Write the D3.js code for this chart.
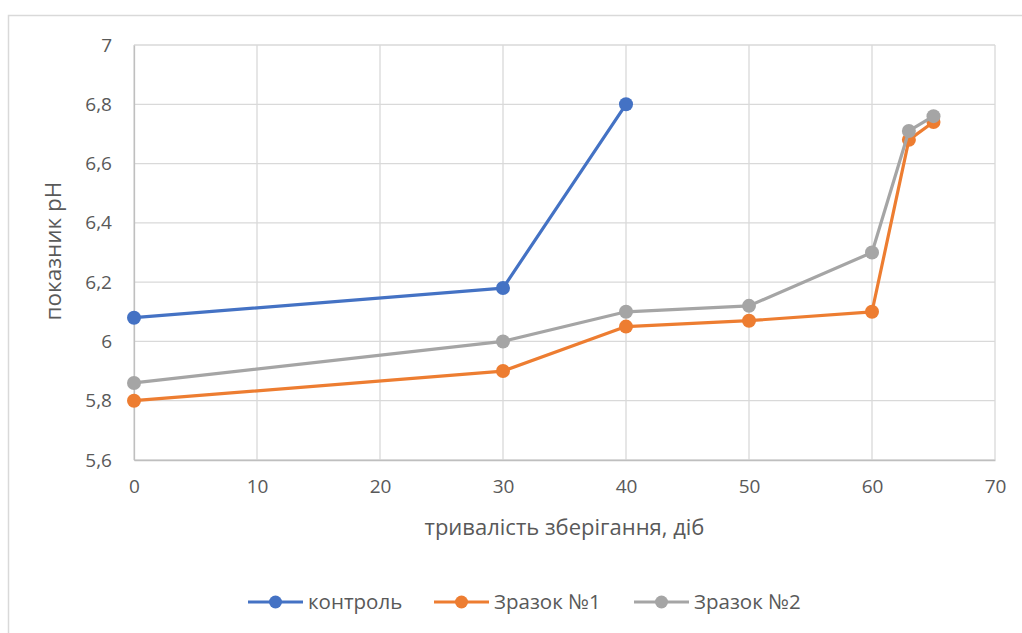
<!DOCTYPE html>
<html><head><meta charset="utf-8">
<script src="https://cdn.jsdelivr.net/npm/d3@7"></script>
<style>body{margin:0;background:#fff;} text{font-family:"Open Sans","Noto Sans",sans-serif;fill:#595959;}</style>
</head><body>
<svg id="c" width="1022" height="633"></svg>
<script>
const seriesNames = ["контроль", "Зразок №1", "Зразок №2"];
const colors = ["#4472C4", "#ED7D31", "#A5A5A5"];
const days0 = [0, 30, 40];
const control = [6.08, 6.18, 6.8];
const days12 = [0, 30, 40, 50, 60, 63, 65];
const sample1 = [5.8, 5.9, 6.05, 6.07, 6.1, 6.68, 6.74];
const sample2 = [5.86, 6.0, 6.1, 6.12, 6.3, 6.71, 6.76];
const xTicks = [0, 10, 20, 30, 40, 50, 60, 70];
const yTicks = [5.6, 5.8, 6.0, 6.2, 6.4, 6.6, 6.8, 7.0];
const xTitle = "тривалість зберігання, діб";
const yTitle = "показник pH";

const series = [
  days0.map((d,i)=>({x:d,y:control[i]})),
  days12.map((d,i)=>({x:d,y:sample1[i]})),
  days12.map((d,i)=>({x:d,y:sample2[i]}))
];

const svg = d3.select("#c");
svg.append("rect").attr("x",8.5).attr("y",15.5).attr("width",1030).attr("height",640)
  .attr("fill","#fff").attr("stroke","#D9D9D9").attr("stroke-width",1.5);

const x = d3.scaleLinear().domain([0,70]).range([134,995]);
const y = d3.scaleLinear().domain([5.6,7.0]).range([460,45]);
const fmt = v => String(+v.toFixed(1)).replace(".", ",");

// gridlines
svg.append("g").selectAll("line.h").data(yTicks).join("line")
  .attr("x1",x(0)).attr("x2",x(70)).attr("y1",d=>y(d)).attr("y2",d=>y(d))
  .attr("stroke","#D9D9D9").attr("stroke-width",1.3);
svg.append("g").selectAll("line.v").data(xTicks).join("line")
  .attr("y1",y(5.6)).attr("y2",y(7)).attr("x1",d=>x(d)).attr("x2",d=>x(d))
  .attr("stroke","#D9D9D9").attr("stroke-width",1.3);

// axes
const yAxis = d3.axisLeft(y).tickValues(yTicks).tickFormat(fmt).tickSize(0).tickPadding(22);
const gy = svg.append("g").attr("transform",`translate(${x(0)},0)`).call(yAxis);
gy.select(".domain").attr("stroke","#BFBFBF").attr("stroke-width",1.3);
gy.selectAll("text").style("font-size","19px").attr("fill","#595959");

const xAxis = d3.axisBottom(x).tickValues(xTicks).tickFormat(d=>d).tickSize(0).tickPadding(20);
const gx = svg.append("g").attr("transform",`translate(0,${y(5.6)})`).call(xAxis);
gx.select(".domain").attr("stroke","#BFBFBF").attr("stroke-width",1.3);
gx.selectAll("text").style("font-size","19px").attr("fill","#595959");

// titles
svg.append("text").attr("x",(x(0)+x(70))/2).attr("y",535).attr("text-anchor","middle")
  .style("font-size","22px").text(xTitle);
svg.append("text").attr("transform",`translate(61,251) rotate(-90)`).attr("text-anchor","middle")
  .style("font-size","22.5px").text(yTitle);

// lines
const line = d3.line().x(d=>x(d.x)).y(d=>y(d.y));
series.forEach((s,i)=>{
  const g = svg.append("g");
  g.append("path").datum(s).attr("d",line).attr("fill","none").attr("stroke",colors[i])
    .attr("stroke-width",3.2).attr("stroke-linejoin","round");
  g.selectAll("circle").data(s).join("circle").attr("cx",d=>x(d.x)).attr("cy",d=>y(d.y))
    .attr("r",7).attr("fill",colors[i]);
});

// legend
const legX = [248, 434, 634];
const legY = 602;
seriesNames.forEach((n,i)=>{
  const g = svg.append("g");
  g.append("line").attr("x1",legX[i]).attr("x2",legX[i]+55).attr("y1",legY).attr("y2",legY)
    .attr("stroke",colors[i]).attr("stroke-width",3.2);
  g.append("circle").attr("cx",legX[i]+27.5).attr("cy",legY).attr("r",6.5).attr("fill",colors[i]);
  g.append("text").attr("x",legX[i]+60).attr("y",legY).attr("dy","0.35em")
    .style("font-size","20.5px").text(n);
});
</script>
</body></html>
